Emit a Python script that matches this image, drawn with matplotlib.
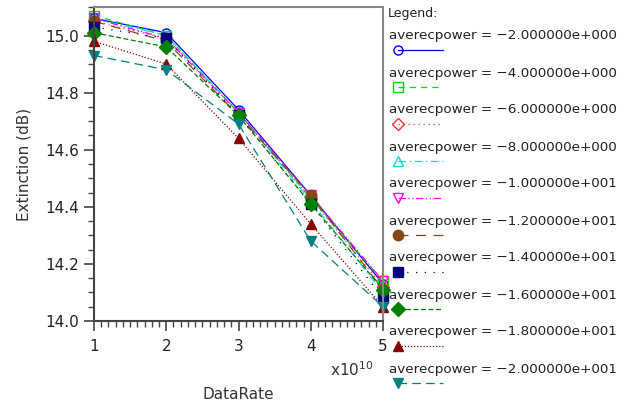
import matplotlib.pyplot as plt
from matplotlib.lines import Line2D
from matplotlib.ticker import MultipleLocator

# data rate in units of 1e10
data_rate = [1, 2, 3, 4, 5]
power_labels = [
    "\u22122.000000e+000", "\u22124.000000e+000", "\u22126.000000e+000",
    "\u22128.000000e+000", "\u22121.000000e+001", "\u22121.200000e+001",
    "\u22121.400000e+001", "\u22121.600000e+001", "\u22121.800000e+001",
    "\u22122.000000e+001",
]
ext_p2 = [15.06, 15.01, 14.74, 14.44, 14.13]
ext_p4 = [15.07, 15.00, 14.73, 14.43, 14.14]
ext_p6 = [15.05, 14.99, 14.73, 14.43, 14.12]
ext_p8 = [15.06, 15.00, 14.73, 14.42, 14.10]
ext_p10 = [15.06, 14.99, 14.73, 14.44, 14.14]
ext_p12 = [15.05, 14.98, 14.72, 14.44, 14.11]
ext_p14 = [15.03, 14.99, 14.72, 14.41, 14.08]
ext_p16 = [15.01, 14.96, 14.72, 14.41, 14.11]
ext_p18 = [14.98, 14.90, 14.64, 14.34, 14.05]
ext_p20 = [14.93, 14.88, 14.69, 14.28, 14.05]
series = [ext_p2, ext_p4, ext_p6, ext_p8, ext_p10,
          ext_p12, ext_p14, ext_p16, ext_p18, ext_p20]

# colour, marker, filled, linestyle
styles = [
    ("#0000ff", "o", False, "-"),
    ("#00dd00", "s", False, (0, (5, 4))),
    ("#ff3030", "D", False, (0, (1, 3))),
    ("#00e0e0", "^", False, (0, (6, 3, 1, 3))),
    ("#ff00ff", "v", False, (0, (6, 2, 1, 2, 1, 2))),
    ("#8b4513", "o", True, (0, (8, 6))),
    ("#000080", "s", True, (0, (1, 6))),
    ("#008000", "D", True, (0, (4, 2))),
    ("#8b0000", "^", True, (0, (1, 1.5))),
    ("#008080", "v", True, (0, (7, 4))),
]

fig = plt.figure(figsize=(6.28, 4.07), dpi=100)
ax = fig.add_axes([94 / 628, 1 - 321 / 407, 289 / 628, 314 / 407])

for vals, (col, mk, filled, ls) in zip(series, styles):
    ax.plot(data_rate, vals, color=col, linestyle=ls, linewidth=0.9,
            marker=mk, markersize=7.5 if filled else 6.5,
            markerfacecolor=col if filled else "none",
            markeredgecolor=col, markeredgewidth=1.0, clip_on=False)

ax.set_xlim(1, 5)
ax.set_ylim(14.0, 15.1)
ax.xaxis.set_major_locator(MultipleLocator(1))
ax.xaxis.set_minor_locator(MultipleLocator(0.1))
ax.yaxis.set_major_locator(MultipleLocator(0.2))
ax.yaxis.set_minor_locator(MultipleLocator(0.05))
ax.yaxis.set_major_formatter(lambda v, p: f"{v:.1f}")
ax.tick_params(which="major", length=7, width=1.2, color="#444444",
               labelsize=11, labelcolor="#222222", direction="out")
ax.tick_params(which="minor", length=4, width=1.0, color="#444444",
               direction="out")
ax.tick_params(axis="x", pad=6)

for side in ["left", "bottom"]:
    ax.spines[side].set_color("#444444")
    ax.spines[side].set_linewidth(1.5)
for side in ["top", "right"]:
    ax.spines[side].set_color("#888888")
    ax.spines[side].set_linewidth(1.5)

ax.set_xlabel("DataRate", fontsize=11, color="#333333", labelpad=24)
ax.set_ylabel("Extinction (dB)", fontsize=11, color="#333333", labelpad=10)
fig.text(330 / 628, 1 - 370 / 407, r"x10$^{10}$", fontsize=11,
         color="#333333", va="center", ha="left")

# legend, drawn by hand outside the axes
fig.text(388 / 628, 1 - 14 / 407, "Legend:", fontsize=9,
         color="#222222", va="center", ha="left")
for i, (lab, (col, mk, filled, ls)) in enumerate(zip(power_labels, styles)):
    ty = 36 + i * 37
    fig.text(389 / 628, 1 - ty / 407, f"averecpower = {lab}", fontsize=9.7,
             color="#222222", va="center", ha="left")
    ly = 1 - (ty + 14) / 407
    fig.add_artist(Line2D([398 / 628, 443 / 628], [ly, ly], color=col,
                          linestyle=ls, linewidth=0.9))
    fig.add_artist(Line2D([398 / 628], [ly], color=col, marker=mk,
                          markersize=7.5 if filled else 6.5,
                          markerfacecolor=col if filled else "none",
                          markeredgecolor=col, linestyle="none"))

fig.savefig("out.png", dpi=100)
